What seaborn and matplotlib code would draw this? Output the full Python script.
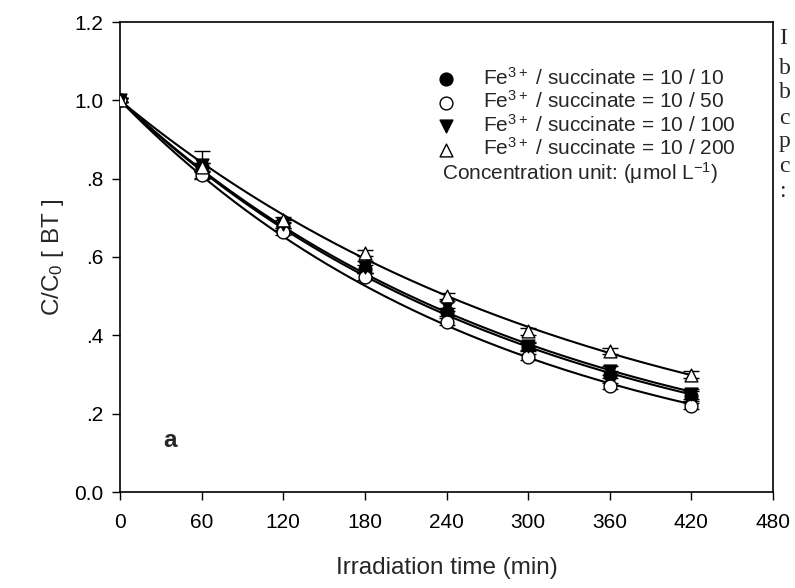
import numpy as np
import pandas as pd
import matplotlib
matplotlib.use("Agg")
import matplotlib.pyplot as plt
import seaborn as sns

# ---- data ----
time_min = [0, 60, 120, 180, 240, 300, 360, 420]
labels = [r"Fe$^{3+}$ / succinate = 10 / 10",
          r"Fe$^{3+}$ / succinate = 10 / 50",
          r"Fe$^{3+}$ / succinate = 10 / 100",
          r"Fe$^{3+}$ / succinate = 10 / 200"]
c_10_10 = [1.00, 0.830, 0.680, 0.570, 0.460, 0.370, 0.300, 0.245]
c_10_50 = [1.00, 0.810, 0.665, 0.550, 0.435, 0.345, 0.270, 0.220]
c_10_100 = [1.00, 0.835, 0.685, 0.575, 0.475, 0.372, 0.310, 0.250]
c_10_200 = [1.00, 0.830, 0.695, 0.610, 0.500, 0.410, 0.360, 0.300]
err_10_10 = [0.005, 0.010, 0.010, 0.010, 0.010, 0.010, 0.010, 0.012]
err_10_50 = [0.005, 0.008, 0.008, 0.008, 0.008, 0.008, 0.008, 0.008]
err_10_100 = [0.005, 0.035, 0.010, 0.015, 0.012, 0.010, 0.012, 0.012]
err_10_200 = [0.005, 0.010, 0.008, 0.008, 0.008, 0.008, 0.008, 0.008]
x_ticks = [0, 60, 120, 180, 240, 300, 360, 420, 480]
y_ticks = [0.0, 0.2, 0.4, 0.6, 0.8, 1.0, 1.2]
y_ticklabels = ["0.0", ".2", ".4", ".6", ".8", "1.0", "1.2"]
side_letters = ["I", "b", "b", "c", "p", "c", ":"]

series = [c_10_10, c_10_50, c_10_100, c_10_200]
errors = [err_10_10, err_10_50, err_10_100, err_10_200]
markers = ["o", "o", "v", "^"]
faces = ["black", "white", "black", "white"]

sns.set_style("ticks")
plt.rcParams["font.family"] = ["Liberation Sans", "DejaVu Sans"]
plt.rcParams["mathtext.fontset"] = "custom"
plt.rcParams["mathtext.rm"] = "Liberation Sans"
plt.rcParams["mathtext.it"] = "Liberation Sans:italic"
plt.rcParams["mathtext.bf"] = "Liberation Sans:bold"

fig = plt.figure(figsize=(7.95, 5.88), dpi=100)
ax = fig.add_axes([120 / 795, 96 / 588, 653 / 795, 470 / 588])

t = np.array(time_min, dtype=float)
tt = np.linspace(0, 420, 200)
for vals, errs, mk, fc, lab in zip(series, errors, markers, faces, labels):
    v = np.array(vals)
    # first-order kinetic fit C/C0 = exp(-k t)
    k = -np.sum(t * np.log(v)) / np.sum(t ** 2)
    fit = pd.DataFrame({"t": tt, "c": np.exp(-k * tt)})
    sns.lineplot(data=fit, x="t", y="c", ax=ax, color="black", lw=1.5, zorder=2)
    ax.errorbar(t, v, yerr=errs, fmt="none", ecolor="black", elinewidth=1,
                capsize=6, capthick=1, zorder=3)
    df = pd.DataFrame({"t": t, "c": v})
    sns.scatterplot(data=df, x="t", y="c", ax=ax, marker=mk, s=85,
                    facecolor=fc, edgecolor="black", linewidth=1,
                    zorder=4, label=lab)

ax.set_xlim(0, 480)
ax.set_ylim(0, 1.2)
ax.set_xticks(x_ticks)
ax.set_yticks(y_ticks)
ax.set_yticklabels(y_ticklabels)
ax.tick_params(axis="both", direction="out", length=6, width=1,
               labelsize=15, colors="black", pad=6)
ax.tick_params(axis="x", pad=9)
for s in ax.spines.values():
    s.set_color("black")
    s.set_linewidth(1.2)
ax.set_xlabel("Irradiation time (min)", fontsize=17.5, labelpad=18)
ax.set_ylabel(r"C/C$_0$ [ BT ]", fontsize=17.5, labelpad=6)

leg = ax.legend(loc="upper left", bbox_to_anchor=(0.471, 0.923), frameon=False,
                fontsize=15, handletextpad=1.25, labelspacing=0.08,
                borderaxespad=0, handlelength=1.0)
ax.text(0.493, 0.679, r"Concentration unit: ($\mathrm{\mu}$mol L$^{-1}$)",
        transform=ax.transAxes, fontsize=15, va="center", ha="left")
ax.text(0.066, 0.11, "a", transform=ax.transAxes, fontsize=17.5,
        fontweight="bold", va="center", ha="left")

ys = [38, 68, 93, 118, 142, 166, 192]
for ch, y in zip(side_letters, ys):
    fig.text(779 / 795, 1 - y / 588, ch, family=["Liberation Serif"],
             fontsize=17, va="center", ha="left")

fig.savefig("out.png", dpi=100)
